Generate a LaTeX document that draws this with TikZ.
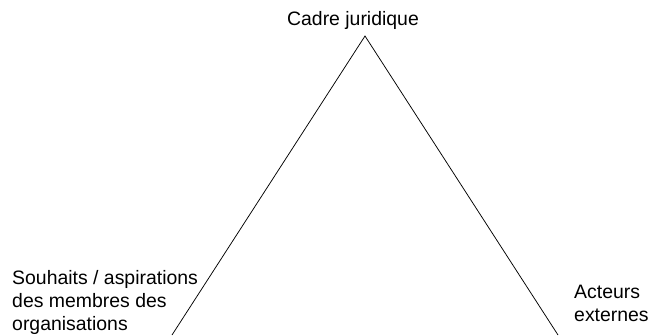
\documentclass[tikz,border=0pt]{standalone}
\usepackage{fontspec}
\setmainfont{Liberation Sans}
\begin{document}
\begin{tikzpicture}[x=1bp,y=-1bp,
  label text/.style={inner sep=0pt, font=\fontsize{19.5}{23}\selectfont, align=left},
  edge line/.style={draw=black, line width=0.75pt}]
\useasboundingbox (0,0) rectangle (650,335);
% triangle corners
\coordinate (apex) at (365,36);
\coordinate (bl) at (172,335);
\coordinate (br) at (558,335);
\draw[edge line] (bl) -- (apex) -- (br);
% labels (base anchor sits on the last line of multi-line text)
\node[label text, anchor=base] (legal) at (353,25) {Cadre juridique};
\node[label text, anchor=base west] (members) at (12,330) {Souhaits / aspirations\\des membres des\\organisations};
\node[label text, anchor=base west] (external) at (574,321) {Acteurs\\externes};
\end{tikzpicture}
\end{document}
